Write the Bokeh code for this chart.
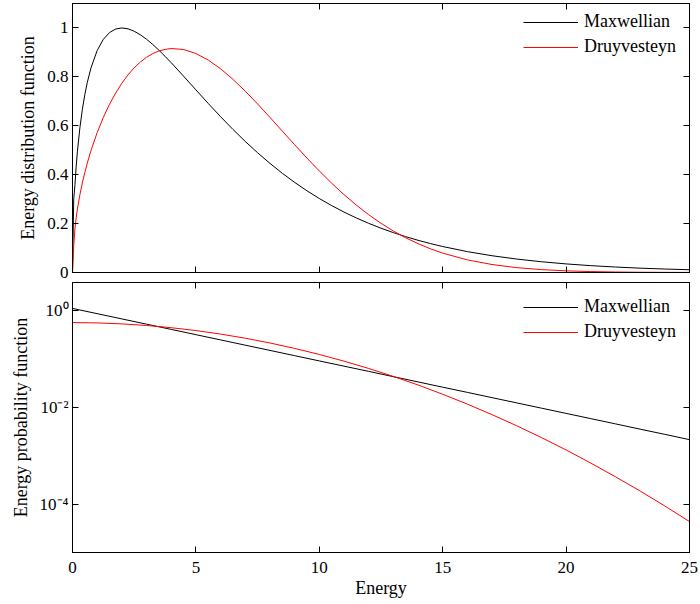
from bokeh.plotting import figure
from bokeh.layouts import column
from bokeh.models import LinearAxis, LogAxis, Range1d, FixedTicker, CustomJSTickFormatter
from bokeh.embed import file_html
from bokeh.resources import INLINE

# ---------------- data ----------------
energy_top = [0, 0.05, 0.1, 0.15, 0.2, 0.3, 0.4, 0.5, 0.6, 0.75, 1, 1.25, 1.5, 1.75, 2,
              2.25, 2.5, 2.75, 3, 3.25, 3.5, 3.75, 4, 4.5, 5, 5.5, 6, 6.5,
              7, 7.5, 8, 8.5, 9, 9.5, 10, 10.5, 11, 11.5, 12, 12.5, 13, 13.5, 14, 14.5, 15,
              16, 17, 18, 19, 20, 21, 22, 23, 24, 25]
maxwell_top = [0, 0.30, 0.3595, 0.4349, 0.496, 0.592, 0.6672, 0.7275, 0.7773, 0.8370,
               0.9079, 0.9536, 0.9813, 0.9957, 1.0, 0.9964, 0.9866, 0.9721, 0.9538,
               0.9326, 0.9092, 0.8841, 0.8578, 0.8029, 0.7469, 0.6913, 0.6372, 0.5853,
               0.5360, 0.4896, 0.4463, 0.4059, 0.3686, 0.3342, 0.3026, 0.2737, 0.2472,
               0.2231, 0.2011, 0.1811, 0.1630, 0.1466, 0.1317, 0.1183, 0.1062, 0.0854,
               0.0685, 0.0550, 0.0440, 0.0351, 0.0280, 0.0224, 0.0178, 0.0142, 0.0113]
druy_top = [0, 0.11, 0.18, 0.2249, 0.26, 0.318, 0.3665, 0.4092, 0.4476, 0.4989, 0.5723,
            0.6345, 0.6880, 0.7342, 0.7741, 0.8082, 0.8370, 0.8608, 0.8801, 0.8953,
            0.9058, 0.9123, 0.9158, 0.9119, 0.8956, 0.8688, 0.8330, 0.7901, 0.7416,
            0.6892, 0.6343, 0.5784, 0.5225, 0.4678, 0.4152, 0.3653, 0.3186, 0.2756,
            0.2364, 0.2011, 0.1697, 0.1420, 0.1179, 0.0970, 0.0792, 0.0516, 0.0326,
            0.0199, 0.0118, 0.00678, 0.00377, 0.00204, 0.00107, 0.00054, 0.00027]

energy_bot = list(range(0, 26))
maxwell_bot = [1.12, 0.8723, 0.6793, 0.5291, 0.4120, 0.3209, 0.2499, 0.1946, 0.1516,
               0.1180, 0.0919, 0.0716, 0.0558, 0.0434, 0.0338, 0.0263, 0.02052, 0.01597,
               0.01244, 0.00969, 0.00755, 0.00588, 0.00458, 0.00356, 0.00278, 0.00216]
druy_bot = [0.57, 0.5614, 0.5364, 0.4973, 0.4472, 0.3901, 0.3302, 0.2711, 0.2159, 0.1668,
            0.1251, 0.0909, 0.0642, 0.0439, 0.0292, 0.01878, 0.01173, 0.00711, 0.004183,
            0.002386, 0.001321, 0.000709, 0.000369, 0.000187, 0.0000917, 0.0000436]

x_ticks = [0, 5, 10, 15, 20, 25]
y_ticks_top = [0, 0.2, 0.4, 0.6, 0.8, 1.0]
y_ticks_log = [1e-4, 1e-2, 1.0]

series_names = ["Maxwellian", "Druyvesteyn"]
series_colors = ["#000000", "#ff0000"]

FONT = "Liberation Serif"
TICK_SIZE = "17px"
LABEL_SIZE = "18px"


def style_axis(ax, labels=True):
    ax.major_tick_in = 6
    ax.major_tick_out = 0
    ax.minor_tick_line_color = None
    ax.axis_line_color = "black"
    ax.major_tick_line_color = "black"
    ax.major_label_text_font = FONT
    if labels:
        ax.major_label_text_color = "black"
        ax.major_label_text_font_size = TICK_SIZE
        ax.major_label_standoff = 4
    else:
        ax.major_label_text_color = None
        ax.major_label_text_font_size = "1px"
        ax.major_label_standoff = 0
    ax.axis_label_text_font = FONT
    ax.axis_label_text_font_size = LABEL_SIZE
    ax.axis_label_text_font_style = "normal"
    ax.axis_label_text_color = "black"


# ---------------- top panel ----------------
p1 = figure(width=700, height=282, x_range=Range1d(0, 25), y_range=Range1d(0, 1.1),
            output_backend="svg", toolbar_location=None,
            min_border_left=72, min_border_right=11, min_border_top=3, min_border_bottom=10)
p1.line(energy_top, maxwell_top, color=series_colors[0], line_width=1, legend_label=series_names[0])
p1.line(energy_top, druy_top, color=series_colors[1], line_width=1, legend_label=series_names[1])

p1.xaxis.ticker = FixedTicker(ticks=x_ticks)
p1.yaxis.ticker = FixedTicker(ticks=y_ticks_top)
p1.yaxis.formatter = CustomJSTickFormatter(code="return String(Math.round(tick*10)/10);")
p1.yaxis.axis_label = "Energy distribution function"
style_axis(p1.xaxis[0], labels=False)
style_axis(p1.yaxis[0], labels=True)
p1.yaxis.axis_label_standoff = 6
ax_top = LinearAxis(ticker=FixedTicker(ticks=x_ticks))
style_axis(ax_top, labels=False)
p1.add_layout(ax_top, "above")
ax_right = LinearAxis(ticker=FixedTicker(ticks=y_ticks_top))
style_axis(ax_right, labels=False)
p1.add_layout(ax_right, "right")

# ---------------- bottom panel ----------------
p2 = figure(width=700, height=322, x_range=Range1d(0, 25), y_range=Range1d(1e-5, 3.85),
            y_axis_type="log", output_backend="svg", toolbar_location=None,
            min_border_left=72, min_border_right=11, min_border_top=0, min_border_bottom=52)
p2.line(energy_bot, maxwell_bot, color=series_colors[0], line_width=1, legend_label=series_names[0])
p2.line(energy_bot, druy_bot, color=series_colors[1], line_width=1, legend_label=series_names[1])

sup_code = """
const e = Math.round(Math.log10(tick));
const sup = {'-':'\u207b','0':'\u2070','1':'\u00b9','2':'\u00b2','3':'\u00b3','4':'\u2074',
             '5':'\u2075','6':'\u2076','7':'\u2077','8':'\u2078','9':'\u2079'};
return '10' + String(e).split('').map(c => sup[c]).join('');
"""
p2.xaxis.ticker = FixedTicker(ticks=x_ticks)
p2.xaxis.axis_label = "Energy"
p2.yaxis.ticker = FixedTicker(ticks=y_ticks_log)
p2.yaxis.formatter = CustomJSTickFormatter(code=sup_code)
p2.yaxis.axis_label = "Energy probability function"
style_axis(p2.xaxis[0], labels=True)
style_axis(p2.yaxis[0], labels=True)
p2.xaxis.major_label_standoff = 9
p2.xaxis.axis_label_standoff = 2
p2.yaxis.axis_label_standoff = 6
ax_top2 = LinearAxis(ticker=FixedTicker(ticks=x_ticks))
style_axis(ax_top2, labels=False)
p2.add_layout(ax_top2, "above")
ax_right2 = LogAxis(ticker=FixedTicker(ticks=y_ticks_log))
style_axis(ax_right2, labels=False)
p2.add_layout(ax_right2, "right")

for p, vy in ((p1, 215), (p2, 210)):
    p.xgrid.visible = False
    p.ygrid.visible = False
    p.outline_line_color = "black"
    p.outline_line_width = 1
    p.background_fill_color = "white"
    p.border_fill_color = "white"
    lg = p.legend[0]
    lg.location = (451, vy)
    lg.glyph_width = 55
    lg.glyph_height = 20
    lg.label_height = 20
    lg.label_standoff = 6
    lg.spacing = 4
    lg.padding = 0
    lg.margin = 0
    lg.border_line_color = None
    lg.background_fill_alpha = 0
    lg.label_text_font = FONT
    lg.label_text_font_size = LABEL_SIZE
    lg.label_text_color = "black"

layout = column(p1, p2)
open("out.html", "w").write(file_html(layout, INLINE))
